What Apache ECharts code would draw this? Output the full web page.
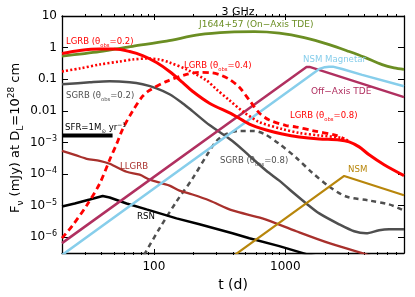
<!DOCTYPE html>
<html><head><meta charset="utf-8">
<script src="https://cdn.jsdelivr.net/npm/echarts@6/dist/echarts.min.js"></script>
<style>html,body{margin:0;padding:0;background:#fff}#c{width:415px;height:297px}</style>
</head><body><div id="c"></div>
<script>
// ---- tick values ----
const xMajorTicks = [100, 1000];
const xMinorTicks = [30,40,50,60,70,80,90,200,300,400,500,600,700,800,900,2000,3000,4000,5000,6000,7000];
const yMajorTicks = [1e-6,1e-5,1e-4,1e-3,0.01,0.1,1,10];

// ---- series [t (d), F (mJy)] ----
const j1644 = [[20,0.54],[38.7,0.749],[68.9,1.10],[124.9,1.60],[222.3,2.56],[375.7,3.07],[581.6,3.18],[900,2.85],[1394,2.06],[2159,1.24],[3062,0.75],[3980,0.50],[5452,0.29],[6722,0.227],[8000,0.204]];
const lgrb02 = [[20,0.648],[27.3,0.805],[38.7,0.897],[50.3,0.897],[65.4,0.749],[82.1,0.561],[104.8,0.338],[131.6,0.176],[165.2,0.0795],[196.7,0.0415],[264.8,0.0174],[396,0.0077],[533,0.0038],[717,0.00247],[949,0.00185],[1277,0.00149],[1812,0.00129],[2570,0.0012],[3062,0.00104],[3646,7.22e-4],[4343,4.04e-4],[5646,1.96e-4],[8000,8.86e-5]];
const lgrb04 = [[20,0.176],[27.3,0.219],[38.7,0.292],[54.9,0.363],[68.9,0.42],[88,0.451],[110.5,0.42],[131.6,0.338],[177.2,0.204],[251.3,0.0918],[299.3,0.0479],[375.7,0.0216],[471.5,0.00976],[634.7,0.0044],[949,0.00265],[1277,0.00199],[1812,0.00166],[2709,0.00138],[3062,0.00108]];
const lgrb08 = [[20,9.29e-7],[24.1,2.38e-6],[30.8,1.01e-5],[38.7,4.96e-5],[46.1,2.82e-4],[52.1,8.97e-4],[57.9,2.65e-3],[68.9,9.76e-3],[82.1,0.0289],[92.8,0.0446],[124.9,0.0855],[177.2,0.142],[222.3,0.164],[279,0.158],[326.6,0.132],[375.7,0.0988],[447.4,0.0554],[533,0.0216],[634.7,0.00844],[756,0.00509],[1018,0.00342],[1212,0.00307],[1603,0.00238],[2439,0.00166],[2805,0.00129]];
const sgrb02 = [[20,0.0688],[32.5,0.0795],[46.1,0.0855],[65.4,0.0795],[82.1,0.0688],[104.8,0.0515],[131.6,0.0334],[165.2,0.0174],[196.7,0.00976],[264.8,0.00354],[396,0.00111],[533,3.76e-4],[717,1.27e-4],[900,6.17e-5],[1170,2.41e-5],[1444,1.17e-5],[1812,5.67e-6],[2570,2.56e-6],[3341,1.54e-6],[4121,1.33e-6],[5172,1.66e-6],[6162,1.78e-6],[8000,1.78e-6]];
const sgrb08 = [[77.9,1.56e-7],[110.5,1.91e-6],[148.7,1.35e-5],[196.7,7.13e-5],[251.3,3.76e-4],[299.3,0.00111],[356.5,0.00185],[447.4,0.0023],[581.6,0.0023],[692.7,0.00185],[900.4,8.97e-4],[1212,3.26e-4],[1603,1.1e-4],[2159,4.0e-5],[2905,1.94e-5],[4343,1.45e-5],[6162,1.09e-5],[8000,7.04e-6]];
const llgrb = [[20,5.4e-4],[25,4.04e-4],[30.8,3.03e-4],[38.7,2.62e-4],[46.1,2.11e-4],[62,1.18e-4],[77.9,9.52e-5],[92.8,6.63e-5],[131.6,4.3e-5],[156.7,2.99e-5],[196.7,2.24e-5],[264.8,1.45e-5],[396,7.04e-6],[669,3.95e-6],[1212,1.54e-6],[2159,6.47e-7],[3842,3.14e-7],[5172,2.03e-7]];
const rsn = [[20,9.4e-6],[25,1.17e-5],[32.5,1.56e-5],[40.8,2.01e-5],[46.1,1.8e-5],[62,1.17e-5],[88,7.57e-6],[148.7,3.95e-6],[222.3,2.56e-6],[396,1.33e-6],[533,9.29e-7],[900,5.21e-7],[1444,2.92e-7],[1812,2.35e-7]];
const offAxisTde = [[20,6.5e-7],[1450,0.245],[1530,0.245],[8000,0.027]];
const nsmMagnetar = [[20,2.72e-7],[1812,0.21],[2000,0.24],[2150,0.248],[2300,0.25],[2709,0.21],[3842,0.137],[8000,0.0595]];
const nsm = [[400,2.5e-7],[2806,8.67e-5],[8000,2.13e-5]];
const sfrBar = [[20,1.65e-3],[48.5,1.65e-3]];

const FONT = 'DejaVu Sans';
const X_MIN = 20, X_MAX = 8000, Y_MIN = Math.pow(10,-6.5), Y_MAX = 10;
const GRID_W = 342, GRID_H = 239;

// frame axis: line + (optional) labels, no ticks
function frameX(position, labels) {
  return {
    type:'log', gridIndex:0, position, min:X_MIN, max:X_MAX,
    axisLine:{show:true, onZero:false, lineStyle:{color:'#000', width:1.3}},
    axisTick:{show:false},
    axisLabel:{show:labels, customValues:xMajorTicks, margin:8, color:'#000', fontFamily:FONT, fontSize:12,
      formatter:function(v){ return String(Math.round(v)); }},
    splitLine:{show:false}, minorTick:{show:false}
  };
}
// tick-only axis, placed on the opposite side of the grid so its outward ticks point into the plot
function tickX(position, ticks, len) {
  return {
    type:'log', gridIndex:0, position, offset:-GRID_H, min:X_MIN, max:X_MAX,
    axisLine:{show:false, onZero:false},
    axisTick:{show:true, length:len, customValues:ticks, lineStyle:{color:'#000', width:1}},
    axisLabel:{show:false}, splitLine:{show:false}, minorTick:{show:false}
  };
}
function yFmt(v){
  const e = Math.round(Math.log10(v));
  if (e >= 0) return '{b|' + String(Math.round(Math.pow(10,e))) + '}';
  if (e === -1) return '{b|0.1}';
  if (e === -2) return '{b|0.01}';
  return '{b|10}{s|\u2212' + (-e) + '}';
}
function frameY(position, labels) {
  return {
    type:'log', gridIndex:0, position, min:Y_MIN, max:Y_MAX,
    axisLine:{show:true, onZero:false, lineStyle:{color:'#000', width:1.3}},
    axisTick:{show:false},
    axisLabel:{show:labels, customValues:yMajorTicks, margin:5, formatter:yFmt,
      rich:{b:{fontFamily:FONT, fontSize:12, color:'#000', lineHeight:14},
            s:{fontFamily:FONT, fontSize:8, color:'#000', lineHeight:8, verticalAlign:'top'}}},
    splitLine:{show:false}, minorTick:{show:false}
  };
}
function tickY(position) {
  return {
    type:'log', gridIndex:0, position, offset:-GRID_W, min:Y_MIN, max:Y_MAX,
    axisLine:{show:false, onZero:false},
    axisTick:{show:true, length:6, customValues:yMajorTicks, lineStyle:{color:'#000', width:1}},
    axisLabel:{show:false}, splitLine:{show:false}, minorTick:{show:false}
  };
}
function ln(data, color, width, type, smooth, z) {
  return {type:'line', data, showSymbol:false, symbol:'none', smooth: smooth ? 0.3 : false,
    lineStyle:{color, width, type: type || 'solid', cap:'butt'}, silent:true, clip:true, z: z || 2,
    xAxisIndex:0, yAxisIndex:0};
}
function richFor(fill, size) {
  return {
    a:{fill, fontFamily:FONT, fontSize:size, lineHeight:12},
    s:{fill, fontFamily:FONT, fontSize:size*0.62, lineHeight:6, verticalAlign:'bottom'},
    p:{fill, fontFamily:FONT, fontSize:size*0.7, lineHeight:6, verticalAlign:'top'}
  };
}
function label(text, x, y, fill, size) {
  return {type:'text', x, y, silent:true, z:50,
    style:{text, fill, fontFamily:FONT, fontSize:size, align:'left', verticalAlign:'middle', rich:richFor(fill, size)}};
}

const RED = '#ff0000', GRAY = '#4f4f4f', OLIVE = '#6b8e23', BROWN = '#a8302c',
      MAROON = '#b03060', SKY = '#87ceeb', GOLD = '#b8860b';

const option = {
  animation:false,
  backgroundColor:'#fff',
  grid:{left:62, top:16, width:GRID_W, height:GRID_H, containLabel:false},
  title:{text:'3 GHz', left:233, top:2, textAlign:'center',
    textStyle:{fontFamily:FONT, fontSize:11, fontWeight:'normal', color:'#000'}},
  xAxis:[
    Object.assign(frameX('bottom', true), {name:'t (d)', nameLocation:'middle', nameGap:25,
      nameTextStyle:{fontFamily:FONT, fontSize:14, color:'#000'}}),
    frameX('top', false),
    tickX('top', xMajorTicks, 6),      // sits on bottom edge, ticks point up
    tickX('top', xMinorTicks, 3),
    tickX('bottom', xMajorTicks, 6),   // sits on top edge, ticks point down
    tickX('bottom', xMinorTicks, 3)
  ],
  yAxis:[ frameY('left', true), frameY('right', false), tickY('right'), tickY('left') ],
  series:[
    ln(j1644, OLIVE, 2.8, 'solid', true),
    ln(sgrb02, GRAY, 2.5, 'solid', true),
    ln(sgrb08, GRAY, 2.5, [5,4], true),
    ln(llgrb, BROWN, 2.3, 'solid', true),
    ln(rsn, '#000', 2.5, 'solid', false),
    ln(offAxisTde, MAROON, 2.5, 'solid', false),
    ln(nsmMagnetar, SKY, 2.5, 'solid', false),
    ln(nsm, GOLD, 2.2, 'solid', false),
    ln(lgrb02, RED, 3, 'solid', true, 3),
    ln(lgrb04, RED, 2.6, [2,2.2], true, 3),
    ln(lgrb08, RED, 2.8, [6,4], true, 3),
    ln(sfrBar, '#000', 4, 'solid', false, 4)
  ],
  graphic:[
    {type:'text', x:16, y:138, rotation:Math.PI/2, silent:true, z:50,
      style:{text:'{a|F}{s|\u03bd}{a| (mJy) at D}{s|L}{a|=10}{p|28}{a| cm}', fill:'#000',
        fontFamily:FONT, fontSize:13, align:'center', verticalAlign:'middle',
        rich:{a:{fill:'#000', fontFamily:FONT, fontSize:13, lineHeight:18},
              s:{fill:'#000', fontFamily:FONT, fontSize:9, lineHeight:9, verticalAlign:'bottom'},
              p:{fill:'#000', fontFamily:FONT, fontSize:9, lineHeight:9, verticalAlign:'top'}}}},
    label('{a|LGRB (\u03b8}{s|obs}{a|=0.2)}', 66, 42, RED, 8.5),
    label('{a|SGRB (\u03b8}{s|obs}{a|=0.2)}', 66, 96, GRAY, 8.5),
    label('{a|LGRB (\u03b8}{s|obs}{a|=0.4)}', 184, 66, RED, 8.5),
    label('{a|LGRB (\u03b8}{s|obs}{a|=0.8)}', 290, 116, RED, 8.5),
    label('{a|SGRB (\u03b8}{s|obs}{a|=0.8)}', 220, 161, GRAY, 8.5),
    label('{a|J1644+57 (On\u2212Axis TDE)}', 199, 25, OLIVE, 9),
    label('{a|NSM Magnetar}', 303, 60, SKY, 8.6),
    label('{a|Off\u2212Axis TDE}', 311, 92, MAROON, 9),
    label('{a|NSM}', 348, 170, GOLD, 8.6),
    label('{a|LLGRB}', 120, 167, BROWN, 8.6),
    label('{a|RSN}', 137, 217, '#000', 8.6),
    label('{a|SFR=1M}{s|\u2299}{a| yr}{p|\u22121}', 65, 128, '#000', 8.6)
  ]
};
const chart = echarts.init(document.getElementById('c'), null, {renderer:'canvas'});
chart.setOption(option);
</script></body></html>
